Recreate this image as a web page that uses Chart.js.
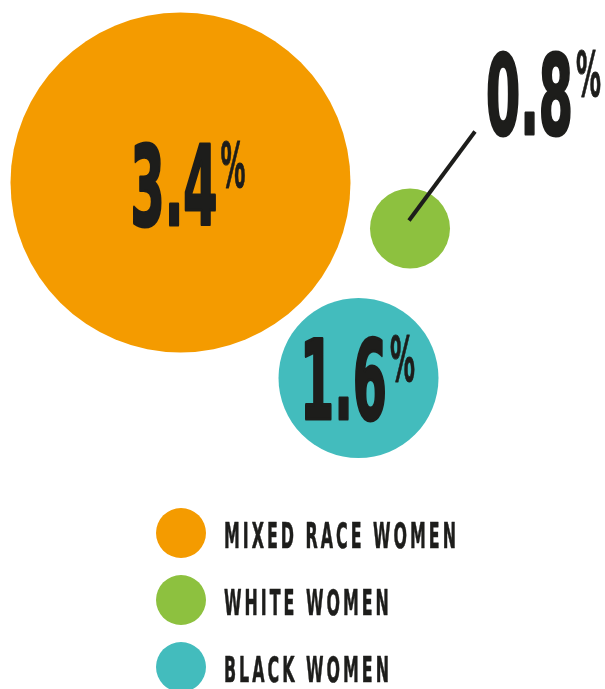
<!DOCTYPE html>
<html>
<head>
<meta charset="utf-8">
<script src="https://cdn.jsdelivr.net/npm/chart.js@4.4.1/dist/chart.umd.min.js"></script>
<style>
html,body{margin:0;padding:0;background:#fff}
#wrap{width:605px;height:689px;position:relative}
</style>
</head>
<body>
<div id="wrap"><canvas id="chart"></canvas></div>
<script>
// data
const groups=["MIXED RACE WOMEN","WHITE WOMEN","BLACK WOMEN"];
const shares=[3.4,0.8,1.6];          // percent
const posX=[3.61,8.2,7.17];          // bubble centre, layout units (1 unit = 1 pct of radius)
const posY=[3.65,4.57,7.56];
const colors=["#F49B00","#8DC13F","#43BCBD"];

const INK="#1d1d1b";
const FONT='"DejaVu Sans Condensed","Liberation Sans Narrow",sans-serif';

// label placement relative to bubble centre: group centre dx, baseline dy
const labelOff=[[7.5,42.5],[133.5,-94.5],[-1,41]];

function textWidth(ctx,text,size,sx,sp){
  ctx.font=`bold ${size}px ${FONT}`;
  let w=0;
  for(const ch of text) w+=ctx.measureText(ch).width*sx+sp;
  return w-sp;
}
// condensed text: each glyph squeezed horizontally, optional extra weight
function squeezed(ctx,text,x,y,size,sx,sp,weight){
  ctx.font=`bold ${size}px ${FONT}`;
  let cx=x;
  for(const ch of text){
    ctx.save(); ctx.translate(cx,y); ctx.scale(sx,1);
    ctx.fillText(ch,0,0);
    if(weight){ ctx.lineWidth=weight/sx; ctx.lineJoin="round"; ctx.strokeText(ch,0,0); }
    ctx.restore();
    cx+=ctx.measureText(ch).width*sx+sp;
  }
}

const labelsPlugin={
  id:"pctLabels",
  afterDatasetsDraw(chart){
    const ctx=chart.ctx;
    const meta=chart.getDatasetMeta(0);
    ctx.save();
    ctx.fillStyle=INK; ctx.strokeStyle=INK; ctx.textBaseline="alphabetic"; ctx.textAlign="left";
    const NS=110, PS=63;
    const sxNum=87/textWidth(ctx,"3.4",NS,1,0);
    const sxPct=25/textWidth(ctx,"%",PS,1,0);
    meta.data.forEach((pt,i)=>{
      const num=shares[i].toFixed(1);
      const nw=textWidth(ctx,num,NS,sxNum,0);
      const pw=textWidth(ctx,"%",PS,sxPct,0);
      const gap=3;
      const cx=pt.x+labelOff[i][0], base=pt.y+labelOff[i][1];
      const left=cx-(nw+gap+pw)/2;
      squeezed(ctx,num,left,base,NS,sxNum,0,1.5);
      squeezed(ctx,"%",left+nw+gap,base-38,PS,sxPct,0,0.4);
      if(i===1){
        // leader line from the small bubble to its label
        ctx.lineWidth=4;
        ctx.beginPath(); ctx.moveTo(pt.x-1,pt.y-8); ctx.lineTo(pt.x+65,pt.y-97); ctx.stroke();
      }
    });
    ctx.restore();
  },
  afterDraw(chart){
    // legend
    const ctx=chart.ctx;
    ctx.save();
    const LS=36, sp=3;
    const sx=(232-sp*(groups[0].length-1))/textWidth(ctx,groups[0],LS,1,0);
    groups.forEach((g,i)=>{
      const cy=533+i*67;
      ctx.fillStyle=colors[i];
      ctx.beginPath(); ctx.arc(181,cy,25,0,Math.PI*2); ctx.fill();
      ctx.fillStyle=INK; ctx.strokeStyle=INK; ctx.textBaseline="alphabetic";
      squeezed(ctx,g,224,cy+15,LS,sx,sp,0.3);
    });
    ctx.restore();
  }
};

const chart=new Chart(document.getElementById("chart"),{
  type:"bubble",
  data:{
    labels:groups,
    datasets:[{
      data:shares.map((v,i)=>({x:posX[i],y:posY[i],v:v})),
      backgroundColor:colors,
      borderWidth:0,
      clip:false
    }]
  },
  options:{
    responsive:true, maintainAspectRatio:false, animation:false,
    layout:{padding:0,autoPadding:false},
    events:[],
    scales:{
      x:{type:"linear",min:0,max:12.1,display:false},
      y:{type:"linear",min:0,max:13.78,reverse:true,display:false}
    },
    plugins:{legend:{display:false},tooltip:{enabled:false}}
  },
  plugins:[labelsPlugin]
});

// bubble radius = share, in the same units as the x axis
const xs=chart.scales.x;
chart.data.datasets[0].data.forEach(d=>{ d.r=xs.getPixelForValue(d.v)-xs.getPixelForValue(0); });
chart.update();
</script>
</body>
</html>
